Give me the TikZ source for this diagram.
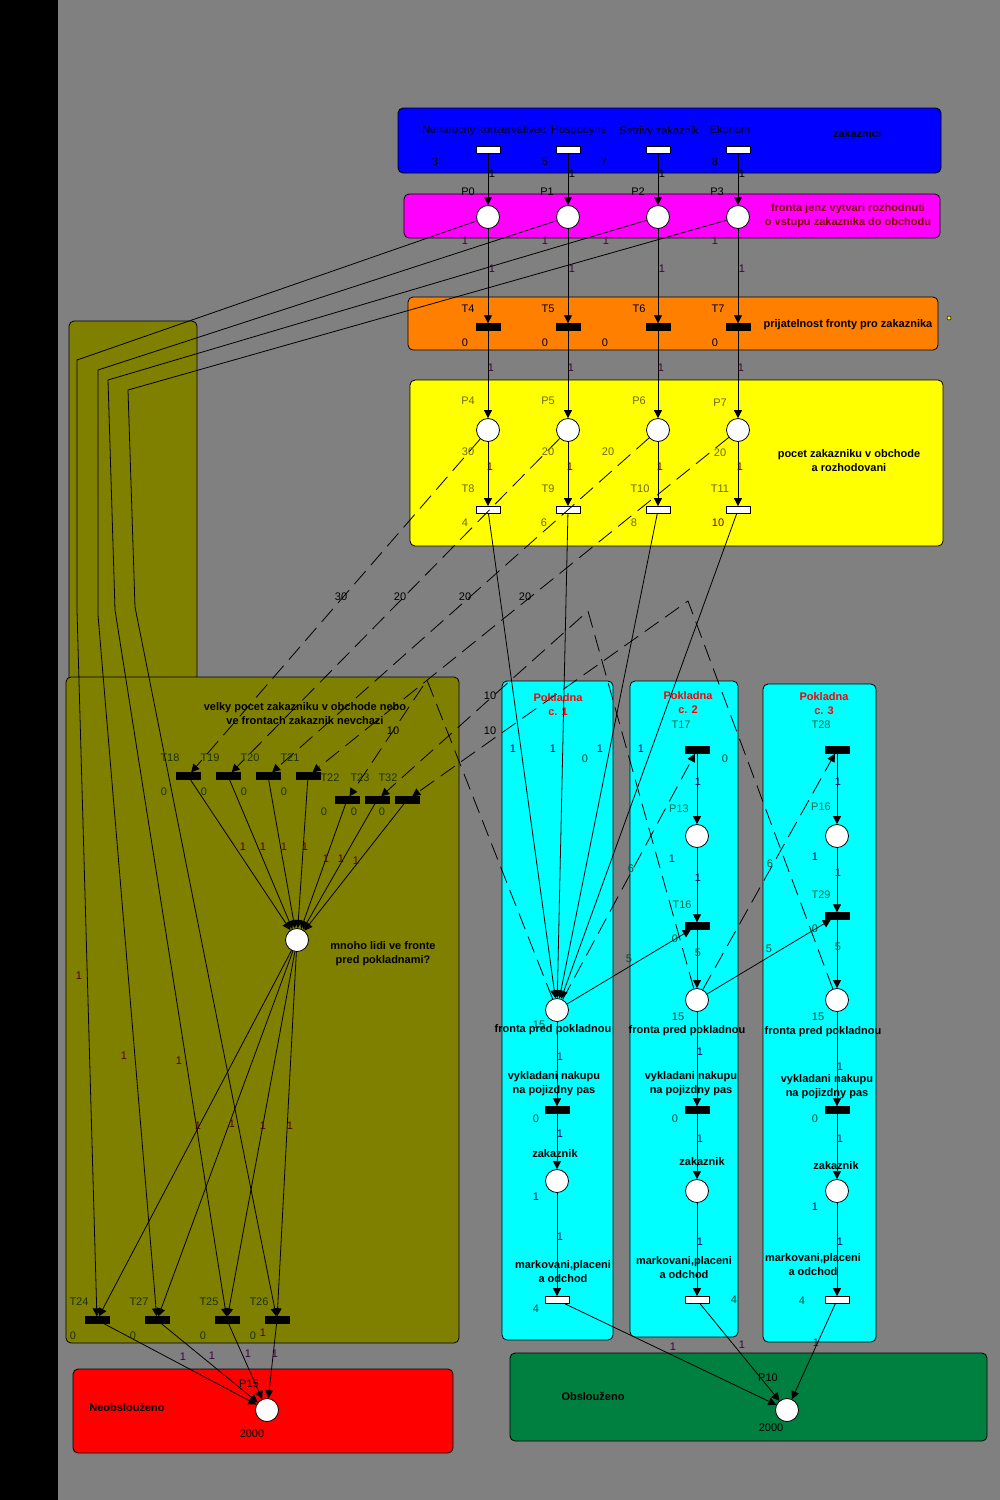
\documentclass[tikz,border=0pt]{standalone}
\usepackage{fontspec}
\setmainfont{Liberation Sans}
\usetikzlibrary{arrows.meta}
\definecolor{bgc}{HTML}{808080}
\definecolor{bluebox}{HTML}{0000FF}
\definecolor{magbox}{HTML}{FF00FF}
\definecolor{yelbox}{HTML}{FFFF00}
\definecolor{cyanbox}{HTML}{00FFFF}
\definecolor{redbox}{HTML}{FF0000}
\definecolor{olivebox}{HTML}{808000}
\definecolor{orangebox}{HTML}{FF8000}
\definecolor{greenbox}{HTML}{008040}
\definecolor{maroon}{HTML}{800000}
\definecolor{olivetxt}{HTML}{6A6A00}
\definecolor{olnm}{HTML}{1E3200}
\definecolor{cynm}{HTML}{007050}
\definecolor{navy}{HTML}{000080}
\definecolor{purp}{HTML}{400040}
\definecolor{redtxt}{HTML}{FF0000}
\begin{document}
\begin{tikzpicture}[x=1pt,y=-1pt,
  place/.style={circle,draw=black,fill=white,line width=0.8pt,minimum size=23pt,inner sep=0pt},
  tbar/.style={rectangle,draw=black,fill=black,minimum width=24pt,minimum height=7pt,inner sep=0pt},
  wbar/.style={rectangle,draw=black,fill=white,line width=0.8pt,minimum width=24pt,minimum height=7pt,inner sep=0pt},
  arc/.style={draw=black,line width=0.8pt,-{Triangle[length=8pt,width=8pt]}},
  darc/.style={arc,dash pattern=on 17pt off 8pt},
  zone/.style={draw=black,line width=0.8pt,rounded corners=5pt},
  lbl/.style={font=\fontsize{11}{12}\selectfont,inner sep=0pt},
  btxt/.style={font=\fontsize{11}{14}\selectfont\bfseries,align=center,inner sep=0pt},
]
\useasboundingbox (0,0) rectangle (1000,1500);
\fill[bgc] (0,0) rectangle (1000,1500);
\fill[black] (0,0) rectangle (58,1500);

% zones
\filldraw[zone,fill=bluebox] (398,108) rectangle (941,173);
\filldraw[zone,fill=magbox] (404,194) rectangle (940,238);
\filldraw[zone,fill=orangebox] (408,297) rectangle (938,350);
\filldraw[zone,fill=yelbox] (410,380) rectangle (943,546);
\filldraw[zone,fill=olivebox] (69,321) rectangle (197,700);
\filldraw[zone,fill=olivebox] (66,677) rectangle (459,1343);
\filldraw[zone,fill=cyanbox] (502,681) rectangle (613,1340);
\filldraw[zone,fill=cyanbox] (630,681) rectangle (738,1337);
\filldraw[zone,fill=cyanbox] (763,684) rectangle (876,1342);
\filldraw[zone,fill=redbox] (73,1369) rectangle (453,1453);
\filldraw[zone,fill=greenbox] (510,1353) rectangle (987,1441);

% nodes: top chain
\foreach \n/\x in {0/488,1/568,2/658,3/738}{
  \node[wbar] (B\n) at (\x,150) {};
  \node[place] (P\n) at (\x,217) {};
}
\node[tbar] (T4) at (488,327) {};
\node[tbar] (T5) at (568,327) {};
\node[tbar] (T6) at (658,327) {};
\node[tbar] (T7) at (738,327) {};
\node[place] (P4) at (488,430) {};
\node[place] (P5) at (568,430) {};
\node[place] (P6) at (658,430) {};
\node[place] (P7) at (738,430) {};
\node[wbar] (T8) at (488,510) {};
\node[wbar] (T9) at (568,510) {};
\node[wbar] (T10) at (658,510) {};
\node[wbar] (T11) at (738,510) {};
\node[circle,draw=black,fill=yelbox,minimum size=4pt,inner sep=0pt,line width=0.5pt] (ydot) at (949,318) {};

% olive area
\node[tbar] (T18) at (188,776) {};
\node[tbar] (T19) at (228,776) {};
\node[tbar] (T20) at (268,776) {};
\node[tbar] (T21) at (308,776) {};
\node[tbar] (T22) at (347,800) {};
\node[tbar] (T23) at (377,800) {};
\node[tbar] (T32) at (407,800) {};
\node[place] (M) at (297,940) {};
\node[tbar] (T24) at (97,1320) {};
\node[tbar] (T27) at (157,1320) {};
\node[tbar] (T25) at (227,1320) {};
\node[tbar] (T26) at (277,1320) {};
\node[place] (P15) at (267,1410) {};

% cashiers
\node[place] (F1) at (557,1010) {};
\node[place] (F2) at (697,1000) {};
\node[place] (F3) at (837,1000) {};
\node[tbar] (T17) at (697,750) {};
\node[place] (P13) at (697,836) {};
\node[tbar] (T16) at (697,926) {};
\node[tbar] (T28) at (837,750) {};
\node[place] (P16) at (837,836) {};
\node[tbar] (T29) at (837,916) {};
\node[tbar] (U1) at (557,1110) {};
\node[tbar] (U2) at (697,1110) {};
\node[tbar] (U3) at (837,1110) {};
\node[place] (Z1) at (557,1181) {};
\node[place] (Z2) at (697,1191) {};
\node[place] (Z3) at (837,1191) {};
\node[wbar] (W1) at (557,1300) {};
\node[wbar] (W2) at (697,1300) {};
\node[wbar] (W3) at (837,1300) {};
\node[place] (P10) at (787,1410) {};

% bend coordinates
\coordinate (a0) at (77,360);  \coordinate (b0) at (77,610);
\coordinate (a1) at (98,370);  \coordinate (b1) at (98,615);
\coordinate (a2) at (108,380); \coordinate (b2) at (115,610);
\coordinate (a3) at (128,390); \coordinate (b3) at (135,607);
\coordinate (k1) at (427,680);
\coordinate (k2) at (588,611);
\coordinate (k3) at (688,601);

% solid arcs
\foreach \a/\b in {B0/P0,B1/P1,B2/P2,B3/P3,P0/T4,P1/T5,P2/T6,P3/T7,T4/P4,T5/P5,T6/P6,T7/P7,
  P4/T8,P5/T9,P6/T10,P7/T11,T8/F1,T9/F1,T10/F1,T11/F1,
  T18/M,T19/M,T20/M,T21/M,T22/M,T23/M,T32/M,M/T24,M/T27,M/T25,M/T26,
  T24/P15,T27/P15,T25/P15,T26/P15,
  T17/P13,P13/T16,T16/F2,T28/P16,P16/T29,T29/F3,F1/T16,F2/T29,
  F1/U1,U1/Z1,Z1/W1,W1/P10,F2/U2,U2/Z2,Z2/W2,W2/P10,F3/U3,U3/Z3,Z3/W3,W3/P10}
  \draw[arc] (\a) -- (\b);
\draw[arc] (P0) -- (a0) -- (b0) -- (T24);
\draw[arc] (P1) -- (a1) -- (b1) -- (T27);
\draw[arc] (P2) -- (a2) -- (b2) -- (T25);
\draw[arc] (P3) -- (a3) -- (b3) -- (T26);
% dashed arcs
\foreach \a/\b in {P4/T18,P5/T19,P6/T20,P7/T21,F1/T17,F2/T28}
  \draw[darc] (\a) -- (\b);
\draw[darc] (F1) -- (k1) -- (T22);
\draw[darc] (F2) -- (k2) -- (T23);
\draw[darc] (F3) -- (k3) -- (T32);

% texts: blue box
\node[lbl] (tn0) at (484,131) {Nenarocny konzervativec};
\node[lbl] (tn1) at (579,131) {Hospodyne};
\node[lbl] (tn2) at (659,132) {Setrivy zakaznik};
\node[lbl] (tn3) at (730,130) {Ekonom};
\node[btxt] (tzak) at (857,134) {zakaznici};
\foreach \x/\t [count=\i] in {435/3,545/5,604/7,715/8}
  \node[lbl] (bn\i) at (\x,162) {\t};
\foreach \x [count=\i] in {492,572,662,742}
  \node[lbl] (bw\i) at (\x,174) {1};
% magenta
\foreach \x/\t in {468/P0,547/P1,638/P2,717/P3}
  \node[lbl] (n\t) at (\x,192) {\t};
\node[btxt,text=maroon] (tfr) at (848,216) {fronta jenz vytvari rozhodnuti\\o vstupu zakaznika do obchodu};
\foreach \x [count=\i] in {465,545,606,715}
  \node[lbl,text=purp] (mw\i) at (\x,241) {1};
\foreach \x [count=\i] in {492,572,662,742}
  \node[lbl,text=purp] (ow\i) at (\x,269) {1};
% orange
\foreach \x/\t in {468/T4,548/T5,639/T6,718/T7}
  \node[lbl] (n\t) at (\x,309) {\t};
\foreach \x [count=\i] in {465,545,605,715}
  \node[lbl] (od\i) at (\x,343) {0};
\node[btxt] (tpri) at (848,325) {prijatelnost fronty pro zakaznika};
\foreach \x [count=\i] in {491,571,661,741}
  \node[lbl,text=purp] (yw\i) at (\x,368) {1};
% yellow
\foreach \x/\y/\t in {468/401/P4,548/401/P5,639/401/P6,720/403/P7,468/489/T8,548/489/T9,640/489/T10,720/489/T11}
  \node[lbl,text=olivetxt] (n\t) at (\x,\y) {\t};
\foreach \x/\y/\t [count=\i] in {468/452/30,548/452/20,608/452/20,720/453/20,465/523/4,544/523/6,634/523/8}
  \node[lbl,text=olivetxt] (yl\i) at (\x,\y) {\t};
\node[lbl,text=maroon] (yl10) at (718,523) {10};
\foreach \x [count=\i] in {490,570,660,740}
  \node[lbl,text=maroon] (y1w\i) at (\x,467) {1};
\node[btxt] (tpoc) at (849,461) {pocet zakazniku v obchode\\a rozhodovani};
% dashed labels
\foreach \x/\y/\t [count=\i] in {341/597/30,400/597/20,465/597/20,525/597/20,393/731/10,490/696/10,490/731/10}
  \node[lbl] (dl\i) at (\x,\y) {\t};
% olive texts
\node[btxt] (tvel) at (305,714) {velky pocet zakazniku v obchode nebo\\ve frontach zakaznik nevchazi};
\node[btxt] (tmno) at (383,954) {mnoho lidi ve fronte\\pred pokladnami?};
\foreach \x/\y/\t in {170/758/T18,210/758/T19,250/758/T20,290/758/T21,330/778/T22,360/778/T23,388/778/T32,79/1302/T24,139/1302/T27,209/1302/T25,259/1302/T26}
  \node[lbl,text=olnm] (n\t) at (\x,\y) {\t};
\foreach \x/\y [count=\i] in {164/792,204/792,244/792,284/792,324/812,354/812,382/812,73/1336,133/1336,203/1336,253/1336}
  \node[lbl,text=olnm] (oz\i) at (\x,\y) {0};
\foreach \x/\y [count=\i] in {243/847,263/847,284/847,305/847,326/859,341/859,356/861,79/976,124/1056,179/1061,198/1126,232/1124,263/1126,290/1126,263/1333}
  \node[lbl,text=maroon!60!black] (ow\i) at (\x,\y) {1};
\foreach \x/\y [count=\i] in {183/1357,212/1356,248/1354,275/1354}
  \node[lbl,text=purp] (rw\i) at (\x,\y) {1};
% red & green
\node[btxt] (tneo) at (127,1407) {Neobsloužen{o}};
\node[lbl] (nP15) at (249,1384) {P15};
\node[lbl] (n2000a) at (252,1434) {2000};
\node[btxt] (tobs) at (593,1396) {Obsloužen{o}};
\node[lbl] (nP10) at (768,1378) {P10};
\node[lbl] (n2000b) at (771,1428) {2000};
\foreach \x/\y [count=\i] in {673/1347,742/1345,816/1343}
  \node[lbl,text=purp] (gw\i) at (\x,\y) {1};
% cashier titles
\node[btxt,text=redtxt] (tk1) at (558,705) {Pokladna\\c. 1};
\node[btxt,text=redtxt] (tk2) at (688,703) {Pokladna\\c. 2};
\node[btxt,text=redtxt] (tk3) at (824,704) {Pokladna\\c. 3};
\foreach \x/\y/\t in {681/725/T17,679/809/P13,682/905/T16,821/725/T28,821/807/P16,821/895/T29}
  \node[lbl,text=cynm] (n\t) at (\x,\y) {\t};
\foreach \x/\y/\t [count=\i] in {725/759/0,585/759/0,675/939/0,815/929/0,629/959/5,698/953/5,769/949/5,838/947/5,631/869/6,770/864/6,
  539/1025/15,678/1017/15,818/1017/15,536/1119/0,675/1119/0,815/1119/0,536/1309/4,734/1300/4,802/1301/4}
  \node[lbl,text=cynm!70!black] (cl\i) at (\x,\y) {\t};
\foreach \x/\y [count=\i] in {513/749,553/749,600/749,641/749,698/782,672/859,698/878,838/782,815/857,838/873,
  560/1057,560/1134,536/1197,560/1237,700/1052,700/1139,700/1242,840/1067,840/1139,815/1207,840/1242}
  \node[lbl,text=navy] (cw\i) at (\x,\y) {1};
\foreach \x/\y [count=\i] in {553/1030,687/1031,823/1032}
  \node[btxt] (tf\i) at (\x,\y) {fronta pred pokladnou};
\foreach \x/\y [count=\i] in {554/1084,691/1084,827/1087}
  \node[btxt] (tv\i) at (\x,\y) {vykladani nakupu\\na pojizdny pas};
\foreach \x/\y [count=\i] in {555/1154,702/1162,836/1166}
  \node[btxt] (tz\i) at (\x,\y) {zakaznik};
\foreach \x/\y [count=\i] in {563/1272,684/1268,813/1265}
  \node[btxt] (tm\i) at (\x,\y) {markovani,placeni\\a odchod};
\end{tikzpicture}
\end{document}
